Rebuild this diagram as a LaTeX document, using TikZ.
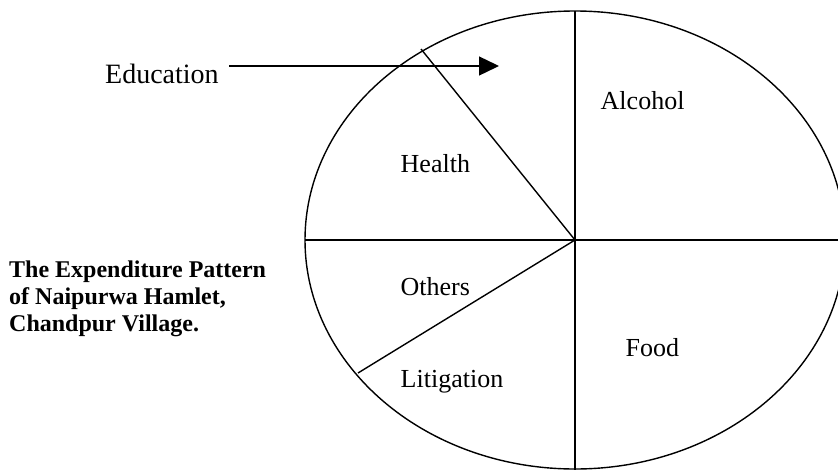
\documentclass[tikz,border=0pt]{standalone}
\usepackage{fontspec}
\setmainfont{Liberation Serif}
\usetikzlibrary{arrows.meta}
\tikzset{
  lbl/.style={anchor=base west, inner sep=0pt, font=\fontsize{26}{30}\selectfont},
  edulbl/.style={anchor=base west, inner sep=0pt, font=\fontsize{28}{32}\selectfont},
  ttl/.style={anchor=north west, inner sep=0pt, align=left, font=\bfseries\fontsize{24}{27}\selectfont},
  pieline/.style={line width=1.4pt},
}
\begin{document}
\begin{tikzpicture}[x=1pt,y=-1pt]
\useasboundingbox (0,0) rectangle (838,469);
\clip (0,0) rectangle (838,469);
\coordinate (c) at (575,240);
\coordinate (top) at (575,11);
\coordinate (bot) at (575,470);
\coordinate (lft) at (305,240);
\coordinate (rgt) at (845,240);
\coordinate (hl) at (421,49);
\coordinate (lt) at (358,373);
\coordinate (arrS) at (229,66);
\coordinate (arrE) at (499,66);
\draw[pieline] (c) ellipse [x radius=270, y radius=229];
\draw[pieline] (top) -- (bot);
\draw[pieline] (lft) -- (rgt);
\draw[pieline] (c) -- (hl);
\draw[pieline] (c) -- (lt);
\draw[pieline, -{Triangle[length=20pt,width=19pt]}] (arrS) -- (arrE);
\node[edulbl] (edu) at (105,83) {Education};
\node[lbl] (alc) at (600.5,109) {Alcohol};
\node[lbl] (hea) at (400.5,172) {Health};
\node[lbl] (oth) at (400.5,295) {Others};
\node[lbl] (foo) at (625.5,356) {Food};
\node[lbl] (lit) at (400.5,387) {Litigation};
\node[ttl] (title) at (9,261) {The Expenditure Pattern\\of Naipurwa Hamlet,\\Chandpur Village.};
\end{tikzpicture}
\end{document}
